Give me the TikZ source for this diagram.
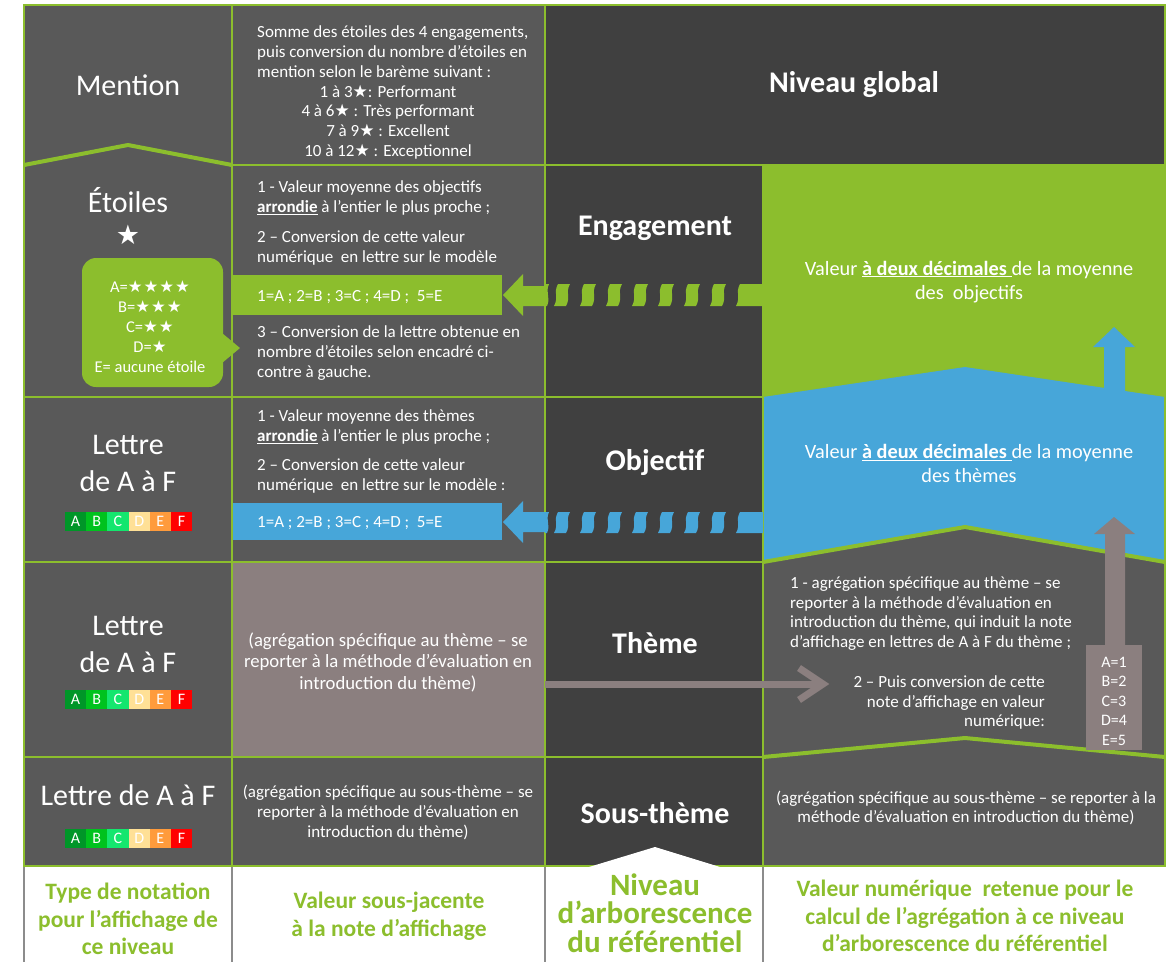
\documentclass[tikz,border=0pt]{standalone}
\usepackage{fontspec}
\setmainfont{Carlito}
\newfontfamily\symf{DejaVu Sans}
\newcommand{\stsym}{{\symf ★}}
\definecolor{vert}{RGB}{140,190,45}
\definecolor{bleu}{RGB}{71,166,217}
\definecolor{taupe}{RGB}{139,127,127}
\definecolor{gris}{RGB}{89,89,89}
\definecolor{fonce}{RGB}{64,64,64}
\definecolor{sepc}{RGB}{140,140,140}
\definecolor{cA}{RGB}{0,150,40}
\definecolor{cB}{RGB}{0,194,30}
\definecolor{cC}{RGB}{20,230,110}
\definecolor{cD}{RGB}{255,224,150}
\definecolor{cE}{RGB}{255,155,60}
\definecolor{cF}{RGB}{255,0,0}
\newcommand{\wavydash}[3]{(#1+2,#2) -- (#1+14,#2) .. controls (#1+9,#2+9) and (#1+15,#3-9) .. (#1+10,#3) -- (#1-2,#3) .. controls (#1+3,#3-9) and (#1-3,#2+9) .. (#1+2,#2) -- cycle}
\newcommand{\abcbar}[3]{%
  \foreach \l/\c [count=\i] in {A/cA,B/cB,C/cC,D/cD,E/cE,F/cF}{
    \fill[\c] ({#1+(\i-1)*21.2},#2) rectangle ({#1+\i*21.2},#2+19);
    \node[letter] (#3\l) at ({#1+(\i-0.5)*21.2},#2+9.5) {\l};
  }}
\begin{document}
\begin{tikzpicture}[x=1pt,y=-1pt,
  wt/.style={text=white, inner sep=0pt},
  big/.style={wt, font=\fontsize{30}{37}\selectfont, align=center},
  lvl/.style={wt, font=\fontsize{30}{34}\selectfont\bfseries},
  sm/.style={wt, font=\fontsize{17}{19.8}\selectfont},
  xs/.style={wt, font=\fontsize{17}{19.7}\selectfont},
  letter/.style={wt, font=\fontsize{16}{16}\selectfont},
  foot/.style={text=vert, inner sep=0pt, font=\fontsize{23.5}{27.5}\selectfont\bfseries, align=center},
  grid/.style={vert, line width=2pt},
  chev/.style={vert, line width=4pt},
]
\useasboundingbox (0,0) rectangle (1169,962);
\fill[white] (0,0) rectangle (1169,962);
% backgrounds
\fill[gris] (24,5) rectangle (545,866);
\fill[fonce] (545,5) rectangle (1165,165);
\fill[fonce] (545,165) rectangle (763,866);
\fill[vert] (763,165) rectangle (1165,397);
\fill[gris] (763,397) rectangle (1165,866);
\fill[bleu] (763,397) -- (965,367) -- (1165,397) -- (1165,562) -- (965,527) -- (763,562) -- cycle;
\fill[taupe] (232,562) rectangle (545,757);
% grid
\draw[grid] (24,5) rectangle (1165,866);
\draw[grid] (232,5) -- (232,866);
\draw[grid] (545,5) -- (545,866);
\draw[grid] (763,165) -- (763,866);
\draw[grid] (232,165) -- (1165,165);
\foreach \y in {397,562,757} \draw[grid] (24,\y) -- (763,\y);
% chevrons
\draw[chev] (24,165) -- (128,145) -- (232,165);
\draw[chev] (763,562) -- (965,527) -- (1165,562);
\draw[chev] (763,757) -- (965,738) -- (1165,757);
\fill[white] (589,867) -- (655,847) -- (720,867) -- cycle;
% bottom separators
\foreach \x in {24,232,545,763} \draw[sepc, line width=1.5pt] (\x,867) -- (\x,962);

% green arrow (row 2)
\fill[vert] (233,275) rectangle (502,315);
\fill[vert] (503,295) -- (523,274) -- (523,286) -- (545,286) -- (545,306) -- (523,306) -- (523,316) -- cycle;
\fill[vert] (545,284) -- (549,284) .. controls (545,293) and (551,297) .. (547,306) -- (545,306) -- cycle;
\foreach \x in {556,582,608,634,660,686,712} \fill[vert] \wavydash{\x}{284}{306};
\fill[vert] (740,284) -- (763,284) -- (763,306) -- (736,306) .. controls (741,297) and (735,293) .. (740,284) -- cycle;
% blue arrow (row 3)
\fill[bleu] (233,503) rectangle (502,540);
\fill[bleu] (503,522) -- (523,501) -- (523,512) -- (545,512) -- (545,532) -- (523,532) -- (523,543) -- cycle;
\fill[bleu] (545,512) -- (549,512) .. controls (545,521) and (551,524) .. (547,533) -- (545,533) -- cycle;
\foreach \x in {556,582,608,634,660,686,712} \fill[bleu] \wavydash{\x}{512}{533};
\fill[bleu] (740,512) -- (763,512) -- (763,533) -- (736,533) .. controls (741,524) and (735,521) .. (740,512) -- cycle;
% blue up arrow
\fill[bleu] (1104,392) -- (1104,347) -- (1093,347) -- (1114,327) -- (1135,347) -- (1125,347) -- (1125,392) -- cycle;
% taupe box and up arrow
\fill[taupe] (1086,645) rectangle (1142,750);
\fill[taupe] (1105,646) -- (1105,534) -- (1094,534) -- (1114,517) -- (1135,534) -- (1125,534) -- (1125,646) -- cycle;
% taupe horizontal arrow
\coordinate (hs) at (545,684);
\coordinate (ht) at (823,684);
\draw[taupe, line width=7pt] (hs) -- (ht);
\draw[taupe, line width=7pt, line join=miter] (799,668) -- (ht) -- (799,700);
% callout
\fill[vert, rounded corners=14pt] (82,258) rectangle (223,387);
\fill[vert] (222,333) -- (240,348) -- (222,363) -- cycle;

% ---------- column 1
\node[big] (mention) at (128,85) {Mention};
\node[big] (etoiles) at (128,200) {Étoiles};
\node[wt, font=\symf\fontsize{27}{27}\selectfont] (bigstar) at (128,235) {★};
\node[wt, font=\fontsize{16.5}{20}\selectfont, align=center] (callt) at (150,327)
  {A=\stsym\kern1pt\stsym\kern1pt\stsym\kern1pt\stsym\\B=\stsym\kern1pt\stsym\kern1pt\stsym\\C=\stsym\kern1pt\stsym\\D=\stsym\\E= aucune étoile};
\node[big] (let3) at (128,463) {Lettre\\de A à F};
\abcbar{65}{512}{r3}
\node[big] (let4) at (128,644) {Lettre\\de A à F};
\abcbar{65}{690}{r4}
\node[big] (let5) at (128,795) {Lettre de A à F};
\abcbar{65}{829}{r5}

% ---------- column 2
\node[sm, anchor=west, align=left] (c2a) at (257,51.5)
  {Somme des étoiles des 4 engagements,\\puis conversion du nombre d’étoiles en\\mention selon le barème suivant :};
\node[sm, align=center] (c2b) at (388,122)
  {1 à 3\stsym: Performant\\4 à 6\stsym\ : Très performant\\7 à 9\stsym\ : Excellent\\10 à 12\stsym\ : Exceptionnel};
\node[sm, anchor=west, align=left] (e1) at (257,198)
  {1 - Valeur moyenne des objectifs\\\textbf{\underline{arrondie}} à l’entier le plus proche ;};
\node[sm, anchor=west, align=left] (e2) at (257,248)
  {2 – Conversion de cette valeur\\numérique\ \ en lettre sur le modèle};
\node[sm, anchor=west] (ebar) at (257,297) {1=A ; 2=B ; 3=C ; 4=D ;\ \ 5=E};
\node[sm, anchor=west, align=left] (e3) at (257,353)
  {3 – Conversion de la lettre obtenue en\\nombre d’étoiles selon encadré ci-\\contre à gauche.};
\node[sm, anchor=west, align=left] (o1) at (257,427)
  {1 - Valeur moyenne des thèmes\\\textbf{\underline{arrondie}} à l’entier le plus proche ;};
\node[sm, anchor=west, align=left] (o2) at (257,476)
  {2 – Conversion de cette valeur\\numérique\ \ en lettre sur le modèle :};
\node[sm, anchor=west] (obar) at (257,523) {1=A ; 2=B ; 3=C ; 4=D ;\ \ 5=E};
\node[wt, font=\fontsize{18.7}{21.5}\selectfont, align=center] (t2) at (388,662)
  {(agrégation spécifique au thème – se\\reporter à la méthode d’évaluation en\\introduction du thème)};
\node[xs, align=center] (s2) at (388,812.5)
  {(agrégation spécifique au sous-thème – se\\reporter à la méthode d’évaluation en\\introduction du thème)};

% ---------- column 3
\node[lvl] (glob) at (854,85) {Niveau global};
\node[lvl] (eng) at (655,228) {Engagement};
\node[lvl] (obj) at (655,462) {Objectif};
\node[lvl] (the) at (655,643) {Thème};
\node[lvl] (sth) at (655,813) {Sous-thème};

% ---------- column 4
\node[wt, font=\fontsize{20.3}{24.5}\selectfont, align=center] (v2) at (969,282)
  {Valeur \underline{\textbf{à deux décimales}\ }de la moyenne\\des\ \ objectifs};
\node[wt, font=\fontsize{20.3}{24.5}\selectfont, align=center] (v3) at (969,463.5)
  {Valeur \underline{\textbf{à deux décimales}\ }de la moyenne\\des thèmes};
\node[sm, anchor=west, align=left] (th1) at (790,613.5)
  {1 - agrégation spécifique au thème – se\\reporter à la méthode d’évaluation en\\introduction du thème, qui induit la note\\d’affichage en lettres de A à F du thème ;};
\node[sm, anchor=east, align=right] (th2) at (1045,702.5)
  {2 – Puis conversion de cette\\note d’affichage en valeur\\numérique:};
\node[wt, font=\fontsize{16}{19.5}\selectfont, align=center] (boxt) at (1114,701)
  {A=1\\B=2\\C=3\\D=4\\E=5};
\node[xs, align=center] (s4) at (966,808)
  {(agrégation spécifique au sous-thème – se reporter à la\\méthode d’évaluation en introduction du thème)};

% ---------- footer
\node[foot] (f1) at (128,919) {Type de notation\\pour l’affichage de\\ce niveau};
\node[foot] (f2) at (389,916) {Valeur sous-jacente\\à la note d’affichage};
\node[foot, font=\fontsize{31}{28.5}\selectfont\bfseries] (f3) at (655,913) {Niveau\\d’arborescence\\du référentiel};
\node[foot] (f4) at (965,916)
  {Valeur numérique\ \ retenue pour le\\calcul de l’agrégation à ce niveau\\d’arborescence du référentiel};
\end{tikzpicture}
\end{document}
